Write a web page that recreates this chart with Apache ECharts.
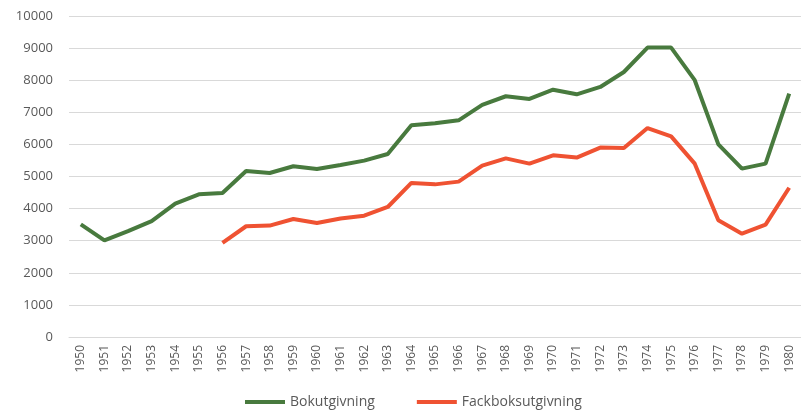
<!DOCTYPE html>
<html><head><meta charset="utf-8">
<script src="https://cdn.jsdelivr.net/npm/echarts@6/dist/echarts.min.js"></script>
<style>html,body{margin:0;padding:0;background:#fff}#c{width:801px;height:415px}</style>
</head><body><div id="c"></div>
<script>
const years = ['1950','1951','1952','1953','1954','1955','1956','1957','1958','1959','1960','1961','1962','1963','1964','1965','1966','1967','1968','1969','1970','1971','1972','1973','1974','1975','1976','1977','1978','1979','1980'];
const bokutgivning = [3510,3010,3300,3610,4155,4445,4485,5170,5110,5320,5235,5360,5495,5700,6595,6660,6750,7230,7500,7415,7705,7560,7790,8255,9015,9015,8000,6000,5245,5400,7580];
const fackboksutgivning = [null,null,null,null,null,null,2930,3450,3470,3675,3550,3690,3780,4050,4800,4755,4840,5340,5565,5400,5660,5590,5900,5890,6510,6250,5400,3635,3220,3500,4650];
const yTicks = {min:0, max:10000, interval:1000};

const chart = echarts.init(document.getElementById('c'), null, {renderer:'canvas'});
chart.setOption({
  animation:false,
  textStyle:{fontFamily:'"Open Sans", sans-serif'},
  grid:{left:69, top:16, width:735, height:321},
  legend:{
    bottom:1, left:240,
    icon:'rect', itemWidth:40, itemHeight:4, itemGap:42, itemStyle:{},
    textStyle:{fontSize:14, color:'#595959', fontFamily:'"Open Sans", sans-serif'},
    data:['Bokutgivning','Fackboksutgivning']
  },
  xAxis:{
    type:'category', data:years, boundaryGap:true,
    axisLine:{show:true, lineStyle:{color:'#d9d9d9'}},
    axisTick:{show:false},
    axisLabel:{rotate:90, fontSize:12, color:'#595959', margin:8, interval:0}
  },
  yAxis:{
    type:'value', min:yTicks.min, max:yTicks.max, interval:yTicks.interval,
    axisLine:{show:false}, axisTick:{show:false},
    axisLabel:{fontSize:13, color:'#595959', margin:16, formatter:function(v){return String(v);}},
    splitLine:{lineStyle:{color:'#d9d9d9', width:1}}
  },
  series:[
    {name:'Bokutgivning', type:'line', data:bokutgivning, symbol:'none',
     lineStyle:{width:4, color:'#487a3e'}, itemStyle:{color:'#487a3e'}},
    {name:'Fackboksutgivning', type:'line', data:fackboksutgivning, symbol:'none', connectNulls:false,
     lineStyle:{width:4, color:'#ef5232'}, itemStyle:{color:'#ef5232'}}
  ]
});
</script></body></html>
